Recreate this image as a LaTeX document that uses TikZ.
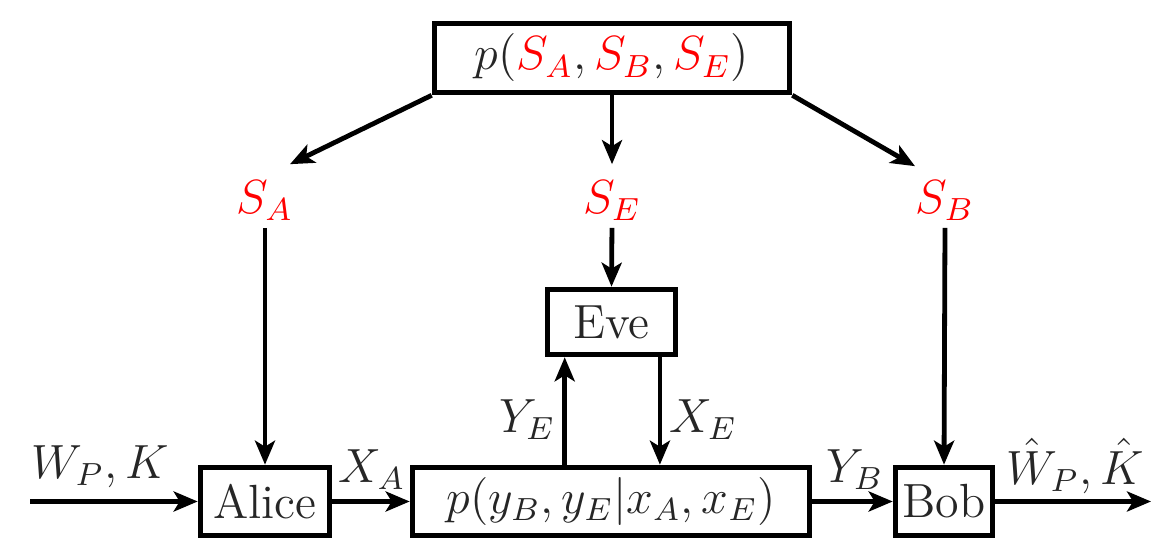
\documentclass[tikz,border=0pt]{standalone}
\usetikzlibrary{arrows.meta,calc}
\begin{document}
\begin{tikzpicture}[x=0.25pt,y=-0.25pt,
  box/.style={draw=black,line width=1.4pt,inner sep=0pt,text=black!85,font=\large},
  lbl/.style={inner sep=0pt,text=black!85,font=\large},
  rlbl/.style={inner sep=0pt,text=red,font=\large},
  arr/.style={line width=1.2pt,-{Stealth[length=6pt,width=5pt,inset=1.5pt]}}]
\useasboundingbox (0,0) rectangle (1151,541);
\node[box,minimum width=88.75pt,minimum height=17.25pt] (top) at (612,58) {$p(\textcolor{red}{S_A},\textcolor{red}{S_B},\textcolor{red}{S_E})$};
\node[rlbl] (SA) at (265,201) {$S_A$};
\node[rlbl] (SE) at (612,201) {$S_E$};
\node[rlbl] (SB) at (945,201) {$S_B$};
\node[box,minimum width=32pt,minimum height=16.25pt] (eve) at (611.5,322) {Eve};
\node[box,minimum width=32.25pt,minimum height=17pt] (alice) at (265,501.5) {Alice};
\node[box,minimum width=99.25pt,minimum height=17pt] (chan) at (611,501.5) {$p(y_B,y_E|x_A,x_E)$};
\node[box,minimum width=24.25pt,minimum height=17pt] (bob) at (944,501.5) {Bob};
\coordinate (in) at (30,501.5);
\coordinate (out) at (1151,501.5);
% top arrows
\draw[arr] (top.south west) -- ([shift={(25,-16)}]SA.north);
\draw[arr] (top.south) -- ([yshift=4pt]SE.north);
\draw[arr] (top.south east) -- ([shift={(-30,-14)}]SB.north);
% down
\draw[arr,shorten <=1.5pt] (SA.south) -- (alice.north);
\draw[arr,shorten <=1.5pt] (SE.south) -- (eve.north);
\draw[arr,shorten <=1.5pt] (SB.south) -- (bob.north);
% bottom chain
\draw[arr] (in) -- (alice.west);
\draw[arr] (alice.east) -- (chan.west);
\draw[arr] (chan.east) -- (bob.west);
\draw[arr] (bob.east) -- (out);
% eve
\draw[arr] ([xshift=5pt]eve.south west |- chan.north) -- ([xshift=5pt]eve.south west);
\draw[arr] ([xshift=-4.6pt]eve.south east) -- ([xshift=-4.6pt]eve.south east |- chan.north);
% labels
\node[lbl] (wk) at (100,467) {$W_P,K$};
\node[lbl] (xa) at (372,470) {$X_A$};
\node[lbl] (yb) at (855,470) {$Y_B$};
\node[lbl] (whk) at (1075,466) {$\hat{W}_P,\hat{K}$};
\node[lbl] (ye) at (527,420) {$Y_E$};
\node[lbl] (xe) at (703,420) {$X_E$};
\end{tikzpicture}
\end{document}
